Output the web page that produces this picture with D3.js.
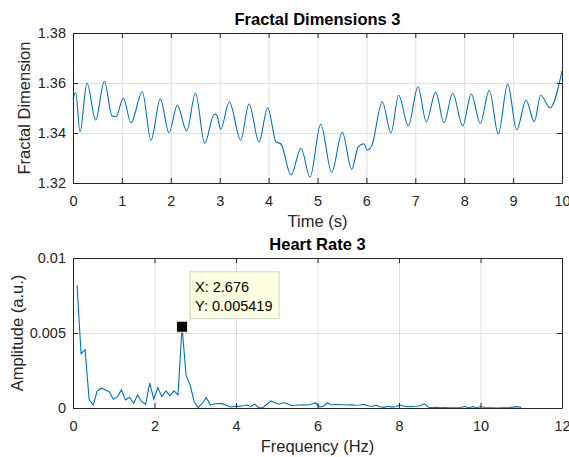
<!DOCTYPE html>
<html lang="en">
<head>
<meta charset="utf-8">
<title>Fractal Dimensions 3</title>
<style>
  body { margin: 0; background: #fff; }
  svg { font-family: "Liberation Sans", Arial, Helvetica, sans-serif; }
  .axis text { font-size: 14.5px; fill: #262626; font-family: "Liberation Sans", Arial, sans-serif; }
  .axis path, .axis line { stroke: #262626; }
  .grid line { stroke: #dfdfdf; stroke-width: 1; }
  .axis-label { font-size: 16.5px; fill: #262626; text-anchor: middle; }
  .title { font-size: 16.5px; font-weight: bold; fill: #000; text-anchor: middle; }
  .series { fill: none; stroke: #0072bd; stroke-width: 1.1; }
  .tip-text { font-size: 14.5px; fill: #000; }
</style>
</head>
<body>
<script src="https://d3js.org/d3.v7.min.js"></script>
<script>
// top panel: fractal dimension over time (turning points of the trace)
var timeValues = [0.00, 0.055, 0.143, 0.286, 0.464, 0.640, 0.80, 0.88, 1.029, 1.186,
    1.417, 1.595, 1.785, 1.963, 2.133, 2.325, 2.505, 2.693, 2.890, 2.94,
    3.020, 3.196, 3.429, 3.599, 3.804, 3.982, 4.151, 4.254, 4.458, 4.663,
    4.847, 5.065, 5.290, 5.507, 5.699, 5.834, 5.951, 6.018, 6.108, 6.325,
    6.503, 6.660, 6.857, 7.055, 7.225, 7.417, 7.587, 7.765, 7.969, 8.145,
    8.329, 8.513, 8.697, 8.890, 9.073, 9.264, 9.434, 9.564, 9.755, 10.0]
var fractalValues = [1.3537, 1.3562, 1.3404, 1.3600, 1.3452, 1.3607, 1.3468, 1.3466, 1.3539, 1.3441,
    1.3565, 1.3371, 1.3536, 1.3401, 1.3511, 1.3408, 1.3560, 1.3359, 1.3476, 1.3472,
    1.3415, 1.3525, 1.3372, 1.3516, 1.3364, 1.3501, 1.3365, 1.3356, 1.3232, 1.3339,
    1.3223, 1.3435, 1.3243, 1.3403, 1.3255, 1.3345, 1.3357, 1.3332, 1.3348, 1.3525,
    1.3401, 1.3551, 1.3429, 1.3585, 1.3445, 1.3563, 1.3441, 1.3559, 1.3428, 1.3556,
    1.3439, 1.3571, 1.3396, 1.3596, 1.3412, 1.3531, 1.3445, 1.3551, 1.3501, 1.3648]

// bottom panel: heart rate spectrum
var freqValues = [0.099, 0.198, 0.297, 0.396, 0.496, 0.595, 0.694, 0.793, 0.892, 0.991,
    1.090, 1.189, 1.288, 1.388, 1.487, 1.586, 1.685, 1.784, 1.883, 1.982,
    2.081, 2.180, 2.280, 2.379, 2.478, 2.577, 2.676, 2.775, 2.874, 2.973,
    3.072, 3.172, 3.271, 3.370, 3.469, 3.568, 3.667, 3.766, 3.865, 3.964,
    4.064, 4.163, 4.262, 4.361, 4.460, 4.559, 4.658, 4.757, 4.856, 4.956,
    5.055, 5.154, 5.253, 5.352, 5.451, 5.551, 5.650, 5.749, 5.848, 5.947,
    6.046, 6.145, 6.244, 6.343, 6.443, 6.542, 6.641, 6.740, 6.839, 6.938,
    7.037, 7.136, 7.235, 7.335, 7.434, 7.533, 7.632, 7.731, 7.830, 7.929,
    8.028, 8.127, 8.227, 8.326, 8.425, 8.524, 8.623, 8.722, 8.821, 8.920,
    9.019, 9.119, 9.218, 9.317, 9.416, 9.515, 9.614, 9.713, 9.812, 9.911,
    10.010, 10.109, 10.209, 10.308, 10.407, 10.506, 10.605, 10.704, 10.803, 10.902, 11.001]
var ampValues = [0.00819, 0.00362, 0.00389, 0.00054, 0.00020, 0.00114, 0.00132, 0.00121, 0.00107, 0.00058,
    0.00076, 0.00121, 0.00054, 0.00072, 0.00031, 0.00087, 0.00042, 0.00025, 0.00166, 0.00060,
    0.00136, 0.00076, 0.00114, 0.00081, 0.00114, 0.00087, 0.005419, 0.00217, 0.00154, 0.00042,
    0.00002, 0.00030, 0.00069, 0.00020, 0.00027, 0.00030, 0.00029, 0.00018, 0.00007, 0.00011,
    0.00011, 0.00015, 0.00020, 0.00010, 0.00025, 0.00002, 0.00003, 0.00025, 0.00047, 0.00035,
    0.00025, 0.00035, 0.00030, 0.00017, 0.00018, 0.00020, 0.00022, 0.00020, 0.00025, 0.00035,
    0.00008, 0.00012, 0.00035, 0.00020, 0.00025, 0.00022, 0.00022, 0.00020, 0.00022, 0.00018,
    0.00020, 0.00024, 0.00015, 0.00010, 0.00018, 0.00008, 0.00004, 0.00012, 0.00006, 0.00010,
    0.00020, 0.00012, 0.00008, 0.00010, 0.00012, 0.00015, 0.00028, 0.00005, 0.00003, 0.00004,
    0.00002, 0.00003, 0.00001, 0.00002, 0.00001, 0.00003, 0.00010, 0.00002, 0.00009, 0.00002,
    0.00010, 0.00003, 0.00001, 0.00002, 0.00000, 0.00001, 0.00002, 0.00003, 0.00006, 0.00009, 0.00003]

var timeTicks = [0, 1, 2, 3, 4, 5, 6, 7, 8, 9, 10]
var fractalTicks = [1.32, 1.34, 1.36, 1.38]
var freqTicks = [0, 2, 4, 6, 8, 10, 12]
var ampTicks = [0, 0.005, 0.01]
var ampTickLabels = ['0', '0.005', '0.01']
var tipX = 2.676, tipY = 0.005419

var left = 73, W = 489, H = 150

var svg = d3.select('body').append('svg')
    .attr('width', 569)
    .attr('height', 457)

function panel(o) {
    var g = svg.append('g').attr('transform', 'translate(' + left + ',' + o.top + ')')
    var x = d3.scaleLinear().domain(o.xDomain).range([0, W])
    var y = d3.scaleLinear().domain(o.yDomain).range([H, 0])

    // grid
    g.append('g').attr('class', 'grid')
        .attr('transform', 'translate(0,' + H + ')')
        .call(d3.axisBottom(x).tickValues(o.xTicks).tickSize(-H).tickFormat(''))
        .call(function(s) { s.select('.domain').remove() })
    g.append('g').attr('class', 'grid')
        .call(d3.axisLeft(y).tickValues(o.yTicks).tickSize(-W).tickFormat(''))
        .call(function(s) { s.select('.domain').remove() })

    // data
    g.append('path')
        .datum(o.xs.map(function(d, i) { return [d, o.ys[i]] }))
        .attr('class', 'series')
        .attr('d', d3.line()
            .x(function(d) { return x(d[0]) })
            .y(function(d) { return y(d[1]) })
            .curve(o.curve))

    // box with inward ticks on all four sides
    g.append('g').attr('class', 'axis')
        .attr('transform', 'translate(0,' + H + ')')
        .call(d3.axisBottom(x).tickValues(o.xTicks).tickSizeInner(-5).tickSizeOuter(0).tickPadding(13))
    g.append('g').attr('class', 'axis')
        .call(d3.axisTop(x).tickValues(o.xTicks).tickSizeInner(-5).tickSizeOuter(0).tickFormat(''))
    g.append('g').attr('class', 'axis')
        .call(d3.axisLeft(y).tickValues(o.yTicks).tickSizeInner(-5).tickSizeOuter(0).tickPadding(7)
            .tickFormat(o.yFormat))
    g.append('g').attr('class', 'axis')
        .attr('transform', 'translate(' + W + ',0)')
        .call(d3.axisRight(y).tickValues(o.yTicks).tickSizeInner(-5).tickSizeOuter(0).tickFormat(''))
    svg.selectAll('.axis text').attr('fill', '#262626')

    g.append('text').attr('class', 'title')
        .attr('x', W / 2).attr('y', -8)
        .text(o.title)
    g.append('text').attr('class', 'axis-label')
        .attr('x', W / 2).attr('y', H + 43.5)
        .text(o.xLabel)
    g.append('text').attr('class', 'axis-label')
        .attr('transform', 'translate(' + (o.yLabelX - left) + ',' + (H / 2) + ') rotate(-90)')
        .text(o.yLabel)

    return { g: g, x: x, y: y }
}

panel({
    top: 33, xDomain: [0, 10], yDomain: [1.32, 1.38],
    xTicks: timeTicks, yTicks: fractalTicks,
    yFormat: d3.format('.2f'),
    xs: timeValues, ys: fractalValues, curve: d3.curveMonotoneX,
    title: 'Fractal Dimensions 3', xLabel: 'Time (s)', yLabel: 'Fractal Dimension', yLabelX: 29.5
})

var bottom = panel({
    top: 258, xDomain: [0, 12], yDomain: [0, 0.01],
    xTicks: freqTicks, yTicks: ampTicks,
    yFormat: function(d, i) { return ampTickLabels[i] },
    xs: freqValues, ys: ampValues, curve: d3.curveLinear,
    title: 'Heart Rate 3', xLabel: 'Frequency (Hz)', yLabel: 'Amplitude (a.u.)', yLabelX: 22.5
})

// data tip
var tx = bottom.x(tipX), ty = bottom.y(tipY)
bottom.g.append('rect')
    .attr('x', tx - 5.5).attr('y', ty - 5.5)
    .attr('width', 11).attr('height', 11)
    .attr('fill', '#000').attr('stroke', '#f0f0c8').attr('stroke-width', 1)
var tip = bottom.g.append('g').attr('transform', 'translate(' + (tx + 8) + ',' + (ty - 55) + ')')
tip.append('rect')
    .attr('x', 0).attr('y', 0).attr('width', 89).attr('height', 47)
    .attr('fill', '#ffffe1').attr('stroke', '#cfcfcf')
tip.append('text').attr('class', 'tip-text').attr('x', 5).attr('y', 20.5).text('X: ' + tipX)
tip.append('text').attr('class', 'tip-text').attr('x', 5).attr('y', 39.5).text('Y: ' + tipY)
</script>
</body>
</html>
